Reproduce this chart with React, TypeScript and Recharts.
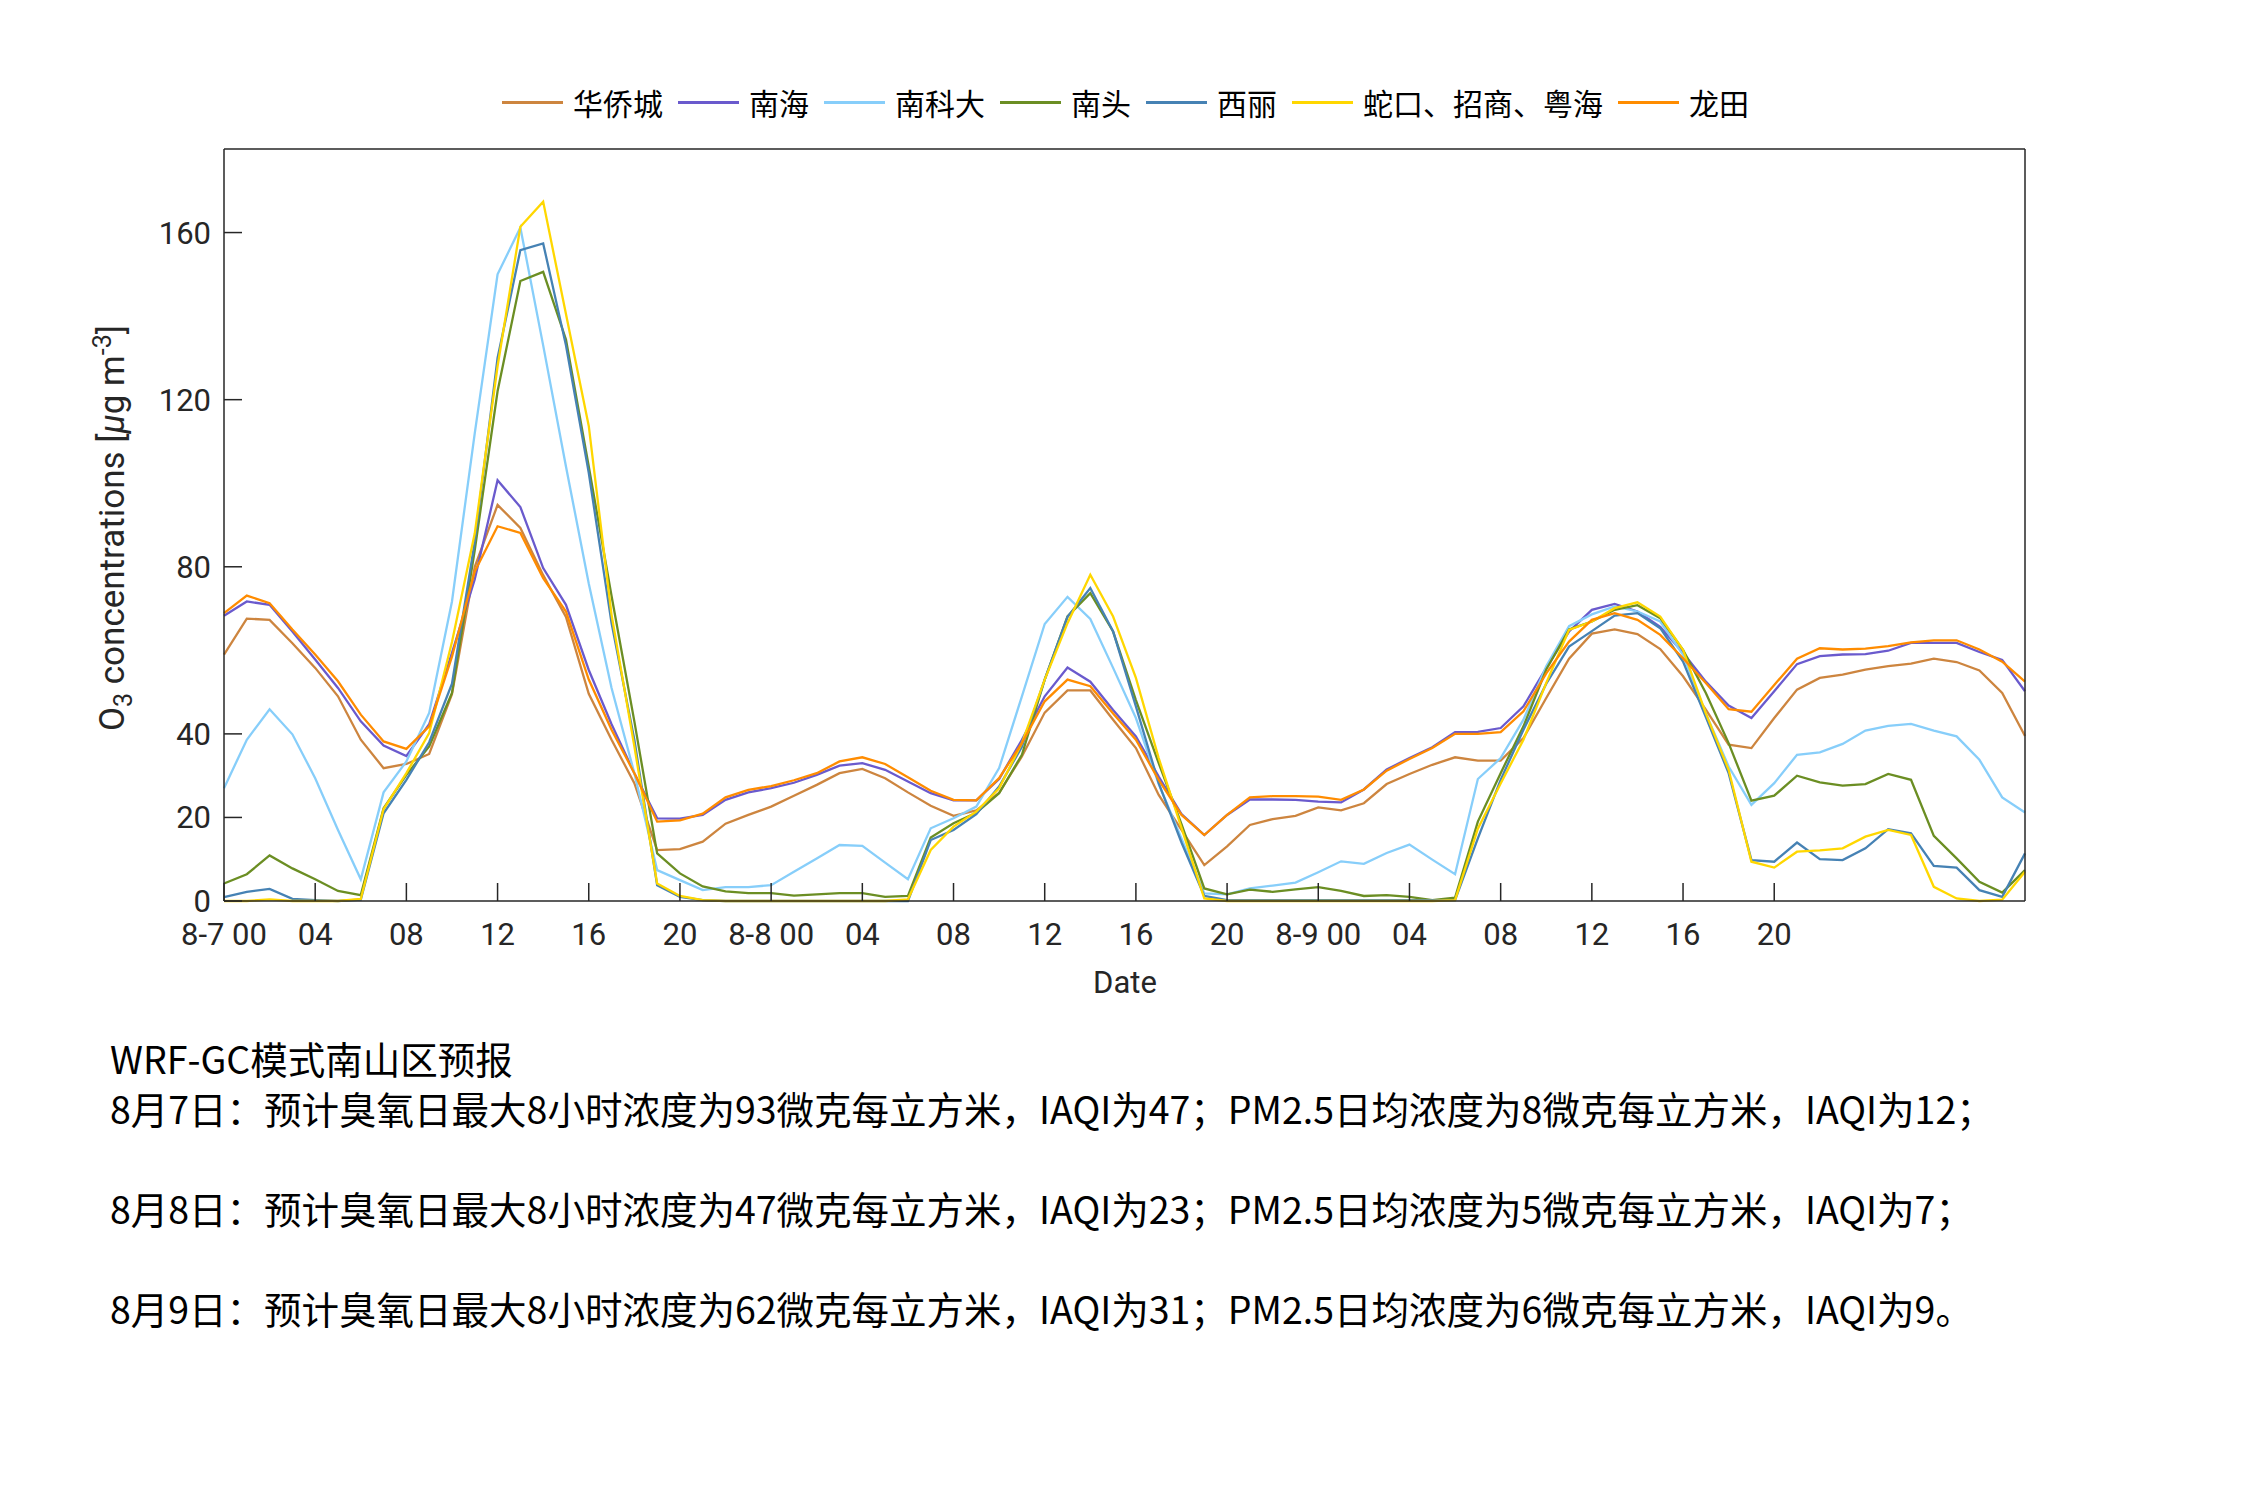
import React from "react";
import { LineChart, Line, XAxis, YAxis } from "recharts";

// hours since 8-7 00, ticks every 4 hours
const hourTicks = [0, 4, 8, 12, 16, 20, 24, 28, 32, 36, 40, 44, 48, 52, 56, 60, 64, 68];
const hourLabels = [
  "8-7 00", "04", "08", "12", "16", "20",
  "8-8 00", "04", "08", "12", "16", "20",
  "8-9 00", "04", "08", "12", "16", "20",
];
const valueTicks = [0, 20, 40, 80, 120, 160];

// O3 hourly forecast, one value per hour (80 h)
const huaqiaocheng = [
  59, 67.6, 67.3, 61.7, 55.8, 49, 38.6, 31.8, 32.8, 35.2,
  49.5, 80, 94.8, 89.3, 78, 68, 49.6, 38.6, 28.2, 12.2,
  12.4, 14.2, 18.5, 20.6, 22.6, 25.2, 27.8, 30.6, 31.6, 29.4,
  26, 22.8, 20.4, 21.7, 25.9, 34.6, 45.1, 50.4, 50.4, 43.4,
  36.6, 25.4, 17, 8.6, 13.1, 18.2, 19.6, 20.4, 22.4, 21.7,
  23.4, 28, 30.4, 32.6, 34.4, 33.6, 33.6, 39, 48.6, 58,
  64, 65, 63.9, 60.3, 53.8, 45.8, 37.4, 36.6, 43.8, 50.6,
  53.4, 54.2, 55.4, 56.2, 56.8, 58, 57.2, 55.2, 49.8, 39.5,
];
const nanhai = [
  68.3, 71.7, 70.9, 64.5, 57.8, 51, 43, 37.2, 34.7, 42.3,
  59.4, 77, 100.7, 94.3, 79.7, 70.9, 55.3, 42.3, 30.6, 19.8,
  19.7, 20.6, 24.2, 26, 27, 28.3, 30.2, 32.4, 33, 31.4,
  28.6, 25.8, 24.1, 24.1, 29.2, 38.6, 49, 55.9, 52.5, 45.7,
  39.4, 29.8, 20.8, 15.8, 20.6, 24.3, 24.3, 24.2, 23.8, 23.6,
  26.7, 31.5, 34.2, 36.8, 40.4, 40.5, 41.4, 46.6, 55.8, 64.5,
  69.7, 71.1, 69.3, 65.6, 59.4, 52.5, 46.8, 43.8, 50.2, 56.7,
  58.6, 59, 59.1, 59.9, 61.8, 61.8, 61.8, 59.6, 57.7, 50.2,
];
const nankeda = [
  27, 38.6, 45.9, 39.9, 29.4, 17, 5.2, 26, 33.4, 45,
  71.7, 112, 150, 161.2, 133, 104, 76, 51, 30.6, 7.4,
  5, 2.6, 3.3, 3.3, 3.8, 7, 10.2, 13.4, 13.2, 9.2,
  5.2, 17.4, 19.8, 22.6, 31.8, 49, 66.3, 72.8, 67.5, 55.8,
  43.8, 28, 15, 1.8, 1.6, 3, 3.7, 4.4, 6.9, 9.5,
  8.9, 11.5, 13.5, 9.9, 6.4, 29.2, 34.2, 43.4, 56.2, 65.8,
  68.6, 70.5, 69.3, 66.9, 58.9, 44.9, 32.2, 23, 28.2, 35,
  35.6, 37.6, 40.8, 41.9, 42.4, 40.8, 39.4, 33.8, 24.8, 21.2,
];
const nantou = [
  4.2, 6.4, 10.9, 7.8, 5.2, 2.4, 1.4, 22.2, 30.2, 37,
  49.8, 84, 122, 148.4, 150.6, 134.4, 104, 73, 43, 11.4,
  6.6, 3.5, 2.3, 1.9, 1.9, 1.3, 1.6, 1.9, 1.9, 1,
  1.2, 15.2, 18.6, 21.1, 25.8, 35, 53, 68.1, 73.7, 64.5,
  48.1, 33, 18.4, 3, 1.6, 2.7, 2.2, 2.8, 3.3, 2.4,
  1.2, 1.4, 1, 0.2, 0.8, 19, 30.6, 41.8, 55.4, 65,
  66.9, 69.7, 70.8, 67.7, 60.1, 49.8, 37.8, 24, 25.2, 30,
  28.4, 27.6, 28, 30.4, 29, 15.6, 10.2, 4.6, 2, 7.4,
];
const xili = [
  0.9, 2.2, 2.9, 0.5, 0.2, 0, 0.3, 21, 29, 38,
  52, 86, 130, 155.8, 157.4, 133, 102.5, 66.5, 38.6, 3.8,
  1, 0.2, 0, 0, 0, 0, 0, 0, 0, 0,
  0, 14.6, 17, 20.8, 27.4, 36.9, 53, 68, 74.9, 64.5,
  46.6, 28.2, 14, 1.2, 0.2, 0.2, 0.2, 0.2, 0.2, 0.2,
  0.2, 0.2, 0.2, 0.2, 0.2, 15, 29, 41, 52, 60.9,
  64.6, 68.3, 68.9, 65.3, 57.3, 44, 30.6, 9.8, 9.4, 14,
  10, 9.8, 12.6, 17.2, 16.2, 8.4, 8, 2.6, 1, 11.4,
];
const shekou = [
  0, 0, 0.4, 0, 0, 0, 0.5, 22, 30.6, 40.2,
  62, 88, 128, 161.4, 167.4, 140.5, 113.7, 68.5, 37, 4.2,
  1.2, 0.2, 0, 0, 0, 0, 0, 0, 0, 0,
  0.4, 12.2, 17.8, 21.4, 27, 37.8, 53, 66.5, 78.1, 68.1,
  53.4, 34.2, 17.5, 0.6, 0, 0, 0, 0, 0, 0,
  0, 0, 0, 0, 0.2, 17.3, 28.1, 38.6, 52.2, 64.9,
  66.9, 70.1, 71.5, 68.1, 60.1, 44.9, 31.4, 9.4, 8, 11.8,
  12.1, 12.6, 15.4, 17, 15.8, 3.4, 0.6, 0, 0.3, 7,
];
const longtian = [
  68.9, 73.1, 71.3, 65, 59, 52.6, 44.6, 38.2, 36.4, 41.8,
  58.5, 78.9, 89.7, 88.1, 77.3, 69.3, 53, 41, 30.6, 19,
  19.3, 20.9, 24.8, 26.6, 27.5, 28.9, 30.6, 33.4, 34.4, 32.8,
  29.6, 26.4, 24.2, 24.1, 29.4, 37.8, 47.8, 53, 51.4, 44.9,
  38.6, 29, 20.6, 15.8, 20.6, 24.8, 25.1, 25.1, 25, 24.2,
  26.7, 31.2, 34, 36.6, 40, 40, 40.4, 45.4, 54.5, 62.1,
  67.3, 68.9, 67.3, 63.7, 58.1, 52.2, 45.9, 45.3, 51.7, 58,
  60.5, 60.2, 60.4, 61, 61.9, 62.4, 62.4, 60.2, 57.3, 52.5,
];

const SERIES = [
  { key: "hqc", name: "华侨城", color: "#CD853F", values: huaqiaocheng },
  { key: "nh", name: "南海", color: "#6A5ACD", values: nanhai },
  { key: "nkd", name: "南科大", color: "#87CEFA", values: nankeda },
  { key: "nt", name: "南头", color: "#6B8E23", values: nantou },
  { key: "xl", name: "西丽", color: "#4682B4", values: xili },
  { key: "sk", name: "蛇口、招商、粤海", color: "#FFD700", values: shekou },
  { key: "lt", name: "龙田", color: "#FF8C00", values: longtian },
];

const rows = huaqiaocheng.map((_, i) => {
  const row: Record<string, number> = { hour: i };
  SERIES.forEach((s) => { row[s.key] = s.values[i]; });
  return row;
});

const notes = [
  "WRF-GC模式南山区预报",
  "8月7日：预计臭氧日最大8小时浓度为93微克每立方米，IAQI为47；PM2.5日均浓度为8微克每立方米，IAQI为12；",
  "",
  "8月8日：预计臭氧日最大8小时浓度为47微克每立方米，IAQI为23；PM2.5日均浓度为5微克每立方米，IAQI为7；",
  "",
  "8月9日：预计臭氧日最大8小时浓度为62微克每立方米，IAQI为31；PM2.5日均浓度为6微克每立方米，IAQI为9。",
];

const AXIS = "#262626";
const LATIN = "Roboto, 'Liberation Sans', sans-serif";
const CJK = "'Noto Sans CJK SC', Roboto, sans-serif";
const tickFont = { fontSize: 31, fill: AXIS, fontFamily: LATIN };
const axisLine = { stroke: AXIS, strokeWidth: 1.5 };

export default function App() {
  return (
    <div style={{ position: "absolute", left: 0, top: 0, width: 2250, height: 1500, background: "#fff", overflow: "hidden" }}>
      {/* legend */}
      <div style={{ position: "absolute", left: 502, top: 82, height: 40, display: "flex", alignItems: "center", gap: 15, fontFamily: CJK, fontSize: 30, color: "#000" }}>
        {SERIES.map((s) => (
          <div key={s.key} style={{ display: "flex", alignItems: "center" }}>
            <div style={{ width: 61, height: 3, background: s.color, marginRight: 10 }} />
            <span style={{ whiteSpace: "nowrap", lineHeight: "40px" }}>{s.name}</span>
          </div>
        ))}
      </div>

      <LineChart width={2250} height={1000} data={rows} margin={{ top: 148, left: 223, right: 224, bottom: 98 }}>
        <XAxis
          xAxisId="b" dataKey="hour" type="number" domain={[0, 79]} ticks={hourTicks}
          tickFormatter={(v: number) => hourLabels[hourTicks.indexOf(v)] ?? ""}
          height={1} tickSize={-18} tickMargin={40} interval={0}
          tick={tickFont} axisLine={axisLine} tickLine={axisLine}
        />
        <XAxis
          xAxisId="t" orientation="top" dataKey="hour" type="number" domain={[0, 79]} ticks={hourTicks}
          height={1} tickSize={-18} tick={false} axisLine={axisLine} tickLine={axisLine}
        />
        <YAxis
          yAxisId="l" type="number" domain={[0, 180]} ticks={valueTicks} interval={0}
          width={1} tickSize={-18} tickMargin={31}
          tick={tickFont} axisLine={axisLine} tickLine={axisLine}
        />
        <YAxis
          yAxisId="r" orientation="right" type="number" domain={[0, 180]} ticks={valueTicks}
          width={1} tickSize={-18} tick={false} axisLine={axisLine} tickLine={axisLine}
        />
        {SERIES.map((s) => (
          <Line
            key={s.key} xAxisId="b" yAxisId="l" dataKey={s.key} name={s.name}
            type="linear" stroke={s.color} strokeWidth={2.3} dot={false}
            activeDot={false} isAnimationActive={false}
          />
        ))}
      </LineChart>

      {/* axis titles */}
      <div style={{ position: "absolute", left: 113, top: 528, transform: "translate(-50%, -50%) rotate(-90deg)", whiteSpace: "nowrap", fontFamily: LATIN, fontSize: 35, color: AXIS }}>
        O<sub style={{ fontSize: 25 }}>3</sub> concentrations [<i>μ</i>g m<sup style={{ fontSize: 25 }}>-3</sup>]
      </div>
      <div style={{ position: "absolute", left: 1125, top: 982, transform: "translate(-50%, -50%)", fontFamily: LATIN, fontSize: 31, color: AXIS }}>
        Date
      </div>

      {/* forecast text */}
      <div style={{ position: "absolute", left: 110, top: 1033, fontFamily: CJK, fontSize: 37.5, lineHeight: "50px", color: "#000" }}>
        {notes.map((t, i) => (
          <div key={i} style={{ height: 50, whiteSpace: "nowrap" }}>{t}</div>
        ))}
      </div>
    </div>
  );
}
